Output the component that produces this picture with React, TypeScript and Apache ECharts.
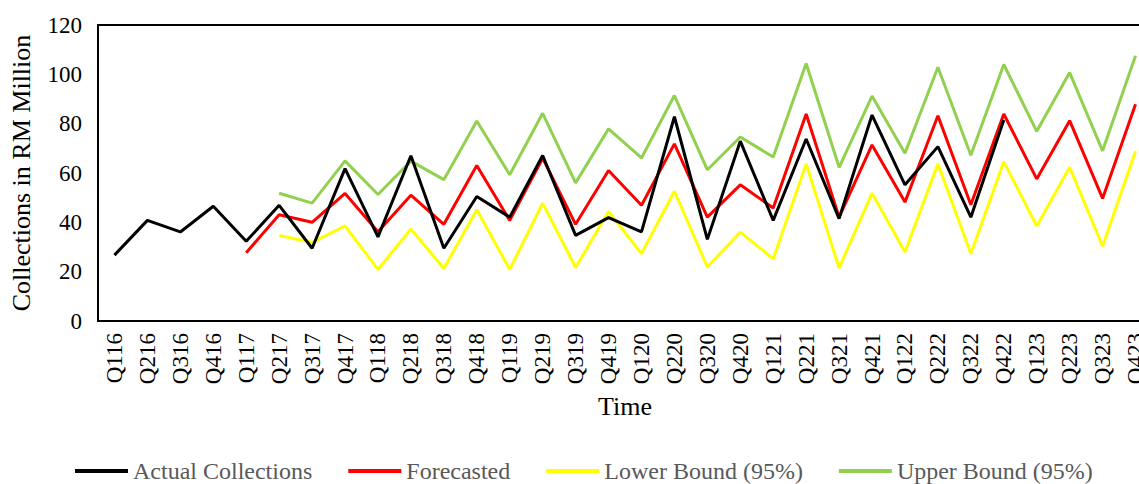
import React, { useEffect, useRef } from "react";
import * as echarts from "echarts";

const categories = [
  "Q116", "Q216", "Q316", "Q416", "Q117", "Q217", "Q317", "Q417",
  "Q118", "Q218", "Q318", "Q418", "Q119", "Q219", "Q319", "Q419",
  "Q120", "Q220", "Q320", "Q420", "Q121", "Q221", "Q321", "Q421",
  "Q122", "Q222", "Q322", "Q422", "Q123", "Q223", "Q323", "Q423",
];

const actual = [
  26.7, 40.8, 36.1, 46.5, 32.3, 46.9, 29.5, 61.8, 34.1, 67.0, 29.5, 50.5,
  42.1, 67.1, 34.7, 41.9, 36.1, 82.8, 33.1, 72.9, 40.8, 73.8, 41.5, 83.5,
  55.2, 70.7, 42.1, 81.5, null, null, null, null,
];

const forecast = [
  null, null, null, null, 27.7, 43.1, 40.0, 51.7, 36.2, 51.0, 39.2, 63.0,
  40.8, 66.0, 39.2, 61.0, 46.9, 71.8, 42.1, 55.2, 45.8, 83.9, 42.1, 71.4,
  48.2, 83.2, 47.1, 83.9, 57.6, 81.2, 49.7, 87.9,
];

const lower = [
  null, null, null, null, null, 34.7, 31.8, 38.6, 20.9, 37.3, 21.3, 45.1,
  20.9, 47.8, 21.7, 44.4, 27.3, 52.6, 21.9, 36.0, 25.2, 63.7, 21.5, 51.8,
  28.0, 63.7, 27.3, 64.6, 38.5, 62.3, 30.3, 68.8,
];

const upper = [
  null, null, null, null, null, 51.8, 47.8, 64.9, 51.3, 64.8, 57.3, 81.1,
  59.3, 84.2, 56.0, 77.9, 66.1, 91.4, 61.3, 74.6, 66.5, 104.4, 62.3, 91.2,
  68.0, 102.9, 67.2, 104.0, 76.9, 100.7, 69.0, 107.5,
];

const seriesNames = ["Actual Collections", "Forecasted", "Lower Bound (95%)", "Upper Bound (95%)"];
const seriesColors = ["#000000", "#FF0000", "#FFFF00", "#92D050"];

const FONT = "'Liberation Serif', 'Times New Roman', serif";

export default function App() {
  const ref = useRef<HTMLDivElement>(null);

  useEffect(() => {
    if (!ref.current) return;
    const chart = echarts.init(ref.current, null, { renderer: "svg" });
    const datasets = [actual, forecast, lower, upper];
    chart.setOption({
      animation: false,
      backgroundColor: "#ffffff",
      textStyle: { fontFamily: FONT },
      grid: {
        left: 98,
        top: 25,
        width: 1054,
        height: 296,
        outerBoundsMode: "none",
        containLabel: false,
        show: true,
        borderColor: "#000000",
        borderWidth: 2,
        backgroundColor: "transparent",
      },
      legend: {
        left: 75,
        top: 459,
        padding: 0,
        icon: "rect",
        itemWidth: 53,
        itemHeight: 4,
        itemGap: 36,
        textStyle: { fontFamily: FONT, fontSize: 24, color: "#595959" },
        data: seriesNames,
      },
      xAxis: {
        type: "category",
        data: categories,
        boundaryGap: true,
        name: "Time",
        nameLocation: "middle",
        nameGap: 72,
        nameTextStyle: { fontFamily: FONT, fontSize: 26, color: "#000000" },
        axisLine: { show: true, lineStyle: { color: "#000000", width: 2 } },
        axisTick: { show: false },
        axisLabel: {
          rotate: 90,
          interval: 0,
          margin: 12,
          fontFamily: FONT,
          fontSize: 23,
          color: "#000000",
        },
        splitLine: { show: false },
      },
      yAxis: {
        type: "value",
        min: 0,
        max: 120,
        interval: 20,
        name: "Collections in RM Million",
        nameLocation: "middle",
        nameGap: 64,
        nameTextStyle: { fontFamily: FONT, fontSize: 26, color: "#000000" },
        axisLine: { show: true, lineStyle: { color: "#000000", width: 2 } },
        axisTick: { show: false },
        axisLabel: { margin: 16, fontFamily: FONT, fontSize: 23, color: "#000000" },
        splitLine: { show: false },
      },
      series: seriesNames.map((name, i) => ({
        name,
        type: "line",
        data: datasets[i],
        color: seriesColors[i],
        symbol: "none",
        connectNulls: false,
        lineStyle: { color: seriesColors[i], width: 3 },
        z: 2 + (i === 0 ? 4 : i),
      })),
    });
    return () => chart.dispose();
  }, []);

  return (
    <div
      ref={ref}
      style={{ position: "fixed", left: 0, top: 0, width: 1139, height: 484 }}
    />
  );
}
